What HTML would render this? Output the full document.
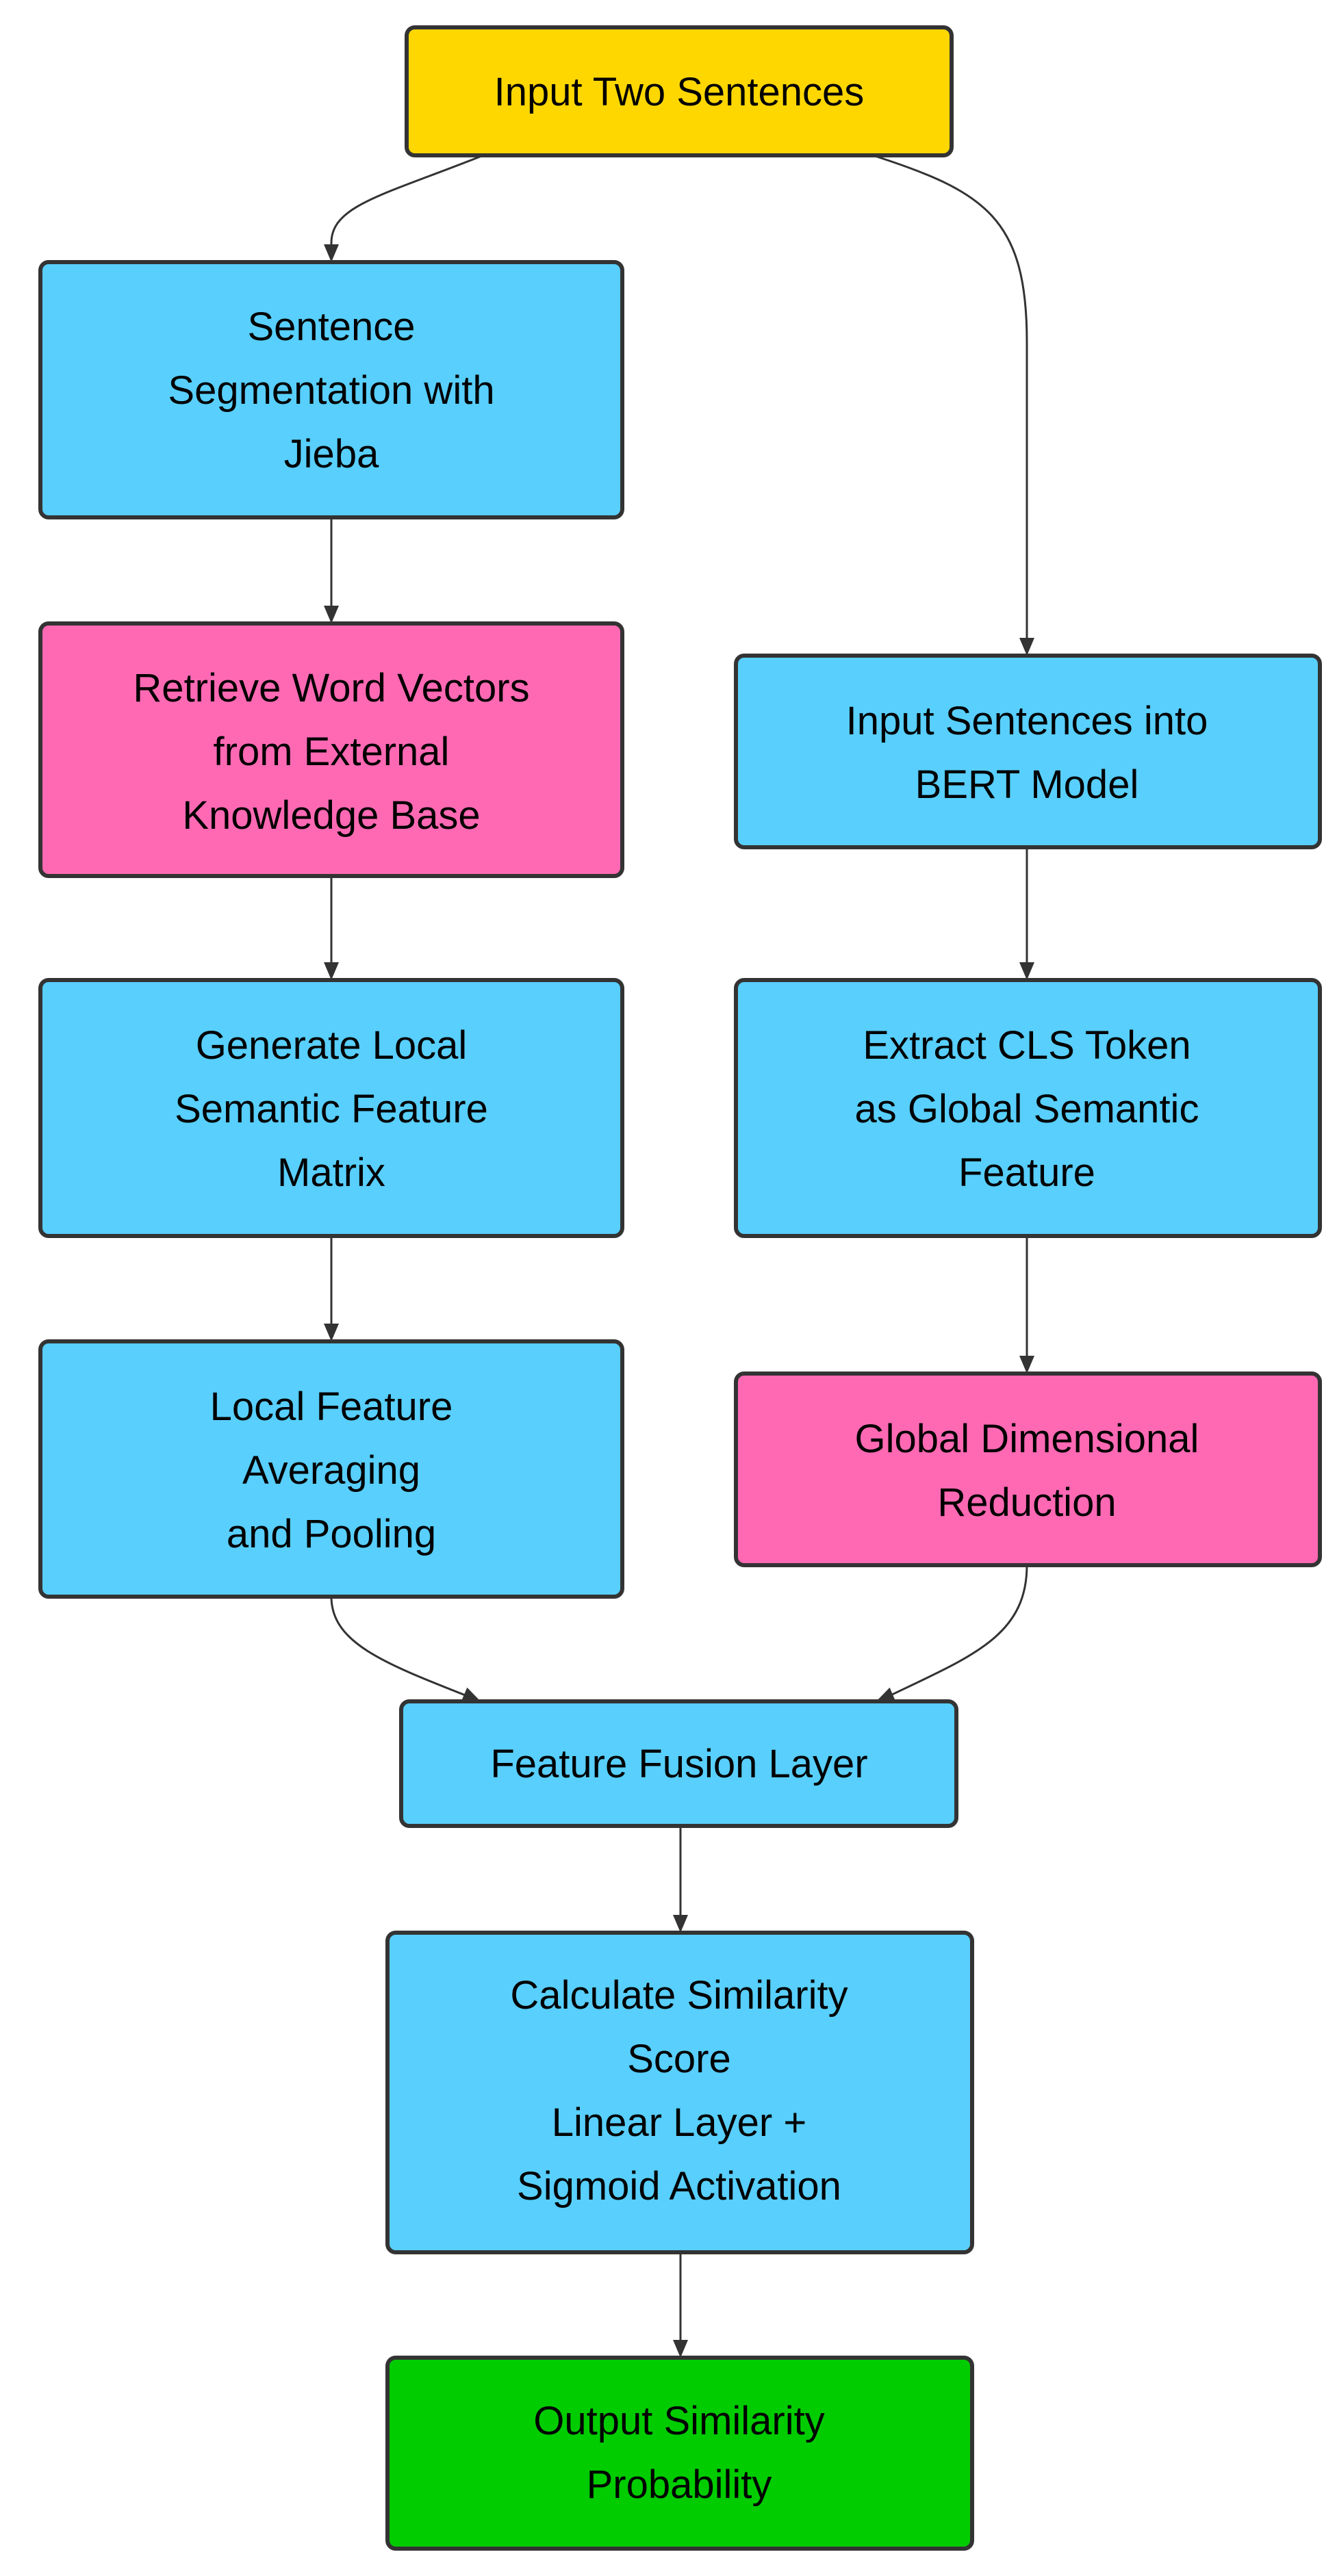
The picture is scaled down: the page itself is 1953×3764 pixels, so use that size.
<!DOCTYPE html>
<html><head><meta charset="utf-8"><style>
html,body{margin:0;padding:0;background:#fff;}
svg{display:block;}
text{font-family:"Liberation Sans",sans-serif;font-size:58px;fill:#000;text-anchor:middle;}
</style></head><body>
<svg width="1953" height="3764" viewBox="0 0 1953 3764" xmlns="http://www.w3.org/2000/svg">
<g fill="none" stroke="#333" stroke-width="3">
<path d="M706,227 C560,285 484,300 484,355 L484,365"/>
<path d="M1275,227 C1440,280 1500,320 1500,500 L1500,940"/>
<path d="M484,756 L484,893"/>
<path d="M484,1280 L484,1414"/>
<path d="M1500,1238 L1500,1414"/>
<path d="M484,1806 L484,1942"/>
<path d="M1500,1806 L1500,1989"/>
<path d="M484,2333 C484,2400 560,2430 682,2478"/>
<path d="M1500,2287 C1500,2390 1420,2420 1299,2478"/>
<path d="M994,2668 L994,2806"/>
<path d="M994,3291 L994,3427"/>
</g>
<g fill="#333">
<polygon points="473,357 495,357 484,383"/>
<polygon points="1489,932 1511,932 1500,958"/>
<polygon points="473,885 495,885 484,911"/>
<polygon points="473,1406 495,1406 484,1432"/>
<polygon points="1489,1406 1511,1406 1500,1432"/>
<polygon points="473,1934 495,1934 484,1960"/>
<polygon points="1489,1981 1511,1981 1500,2007"/>
<polygon points="983,2798 1005,2798 994,2824"/>
<polygon points="983,3419 1005,3419 994,3445"/>
<polygon points="0,0 -26,-11 -26,11" transform="translate(702,2486) rotate(23)"/>
<polygon points="0,0 -26,-11 -26,11" transform="translate(1280,2486) rotate(157)"/>
</g>
<g stroke="#333" stroke-width="6">
<rect x="594" y="40" width="796" height="187" rx="12" fill="#FFD700"/>
<rect x="59" y="383" width="850" height="373" rx="12" fill="#58CFFC"/>
<rect x="59" y="911" width="850" height="369" rx="12" fill="#FF69B4"/>
<rect x="1075" y="958" width="853" height="280" rx="12" fill="#58CFFC"/>
<rect x="59" y="1432" width="850" height="374" rx="12" fill="#58CFFC"/>
<rect x="1075" y="1432" width="853" height="374" rx="12" fill="#58CFFC"/>
<rect x="59" y="1960" width="850" height="373" rx="12" fill="#58CFFC"/>
<rect x="1075" y="2007" width="853" height="280" rx="12" fill="#FF69B4"/>
<rect x="586" y="2486" width="811" height="182" rx="12" fill="#58CFFC"/>
<rect x="566" y="2824" width="854" height="467" rx="12" fill="#58CFFC"/>
<rect x="566" y="3445" width="854" height="279" rx="12" fill="#00CC00"/>
</g>
<text x="992" y="154">Input Two Sentences</text>
<text x="484" y="497">Sentence</text>
<text x="484" y="590">Segmentation with</text>
<text x="484" y="683">Jieba</text>
<text x="484" y="1025">Retrieve Word Vectors</text>
<text x="484" y="1118">from External</text>
<text x="484" y="1211">Knowledge Base</text>
<text x="1500" y="1073">Input Sentences into</text>
<text x="1500" y="1166">BERT Model</text>
<text x="484" y="1547">Generate Local</text>
<text x="484" y="1640">Semantic Feature</text>
<text x="484" y="1733">Matrix</text>
<text x="1500" y="1547">Extract CLS Token</text>
<text x="1500" y="1640">as Global Semantic</text>
<text x="1500" y="1733">Feature</text>
<text x="484" y="2075">Local Feature</text>
<text x="484" y="2168">Averaging</text>
<text x="484" y="2261">and Pooling</text>
<text x="1500" y="2122">Global Dimensional</text>
<text x="1500" y="2215">Reduction</text>
<text x="992" y="2597">Feature Fusion Layer</text>
<text x="992" y="2935">Calculate Similarity</text>
<text x="992" y="3028">Score</text>
<text x="992" y="3121">Linear Layer +</text>
<text x="992" y="3214">Sigmoid Activation</text>
<text x="992" y="3557">Output Similarity</text>
<text x="992" y="3650">Probability</text>
</svg>
</body></html>
